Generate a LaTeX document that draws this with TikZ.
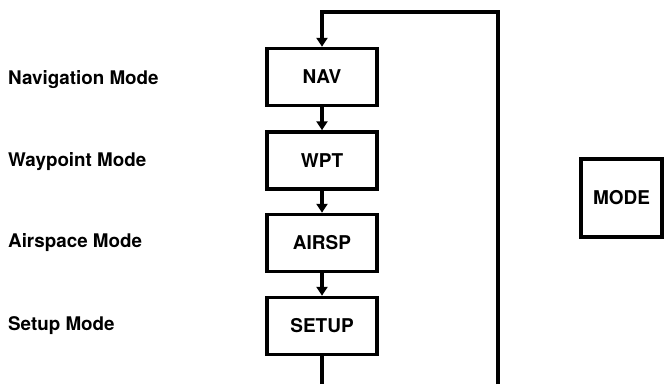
\documentclass[tikz,border=0pt]{standalone}
\usepackage{fontspec}
\setmainfont{TeX Gyre Heros}
\usetikzlibrary{arrows.meta}
\tikzset{
  modebox/.style={draw,line width=3.5pt,minimum width=110pt,minimum height=57pt,inner sep=0pt,font=\fontsize{19}{21}\selectfont\bfseries},
  modelabel/.style={anchor=west,inner sep=0pt,font=\fontsize{18.8}{21}\selectfont\bfseries},
  flow/.style={line width=3.5pt,-{Triangle[width=11pt,length=9pt]}},
  wire/.style={line width=3.5pt}
}
\begin{document}
\begin{tikzpicture}[x=1pt,y=1pt]
\useasboundingbox (0,0) rectangle (664,384);

\node[modebox] (nav) at (322,307) {NAV};
\node[modebox] (wpt) at (322,223.5) {WPT};
\node[modebox] (airsp) at (322,141) {AIRSP};
\node[modebox] (setup) at (322,58) {SETUP};

\node[modelabel] (navlab) at (8,304) {Navigation Mode};
\node[modelabel] (wptlab) at (8,222) {Waypoint Mode};
\node[modelabel] (airsplab) at (8,141) {Airspace Mode};
\node[modelabel] (setuplab) at (8,58) {Setup Mode};

\node[modebox,minimum width=81pt,minimum height=78pt] (mode) at (621.5,186) {MODE};

\coordinate (loopbl) at (322,0);
\coordinate (loopbr) at (498,0);
\coordinate (looptr) at (498,372);
\coordinate (looptl) at (322,372);

\draw[flow] (nav) -- (wpt);
\draw[flow] (wpt) -- (airsp);
\draw[flow] (airsp) -- (setup);
\draw[wire] (setup) -- (loopbl);
\draw[flow] (loopbr) -- (looptr) -- (looptl) -- (nav);
\end{tikzpicture}
\end{document}
